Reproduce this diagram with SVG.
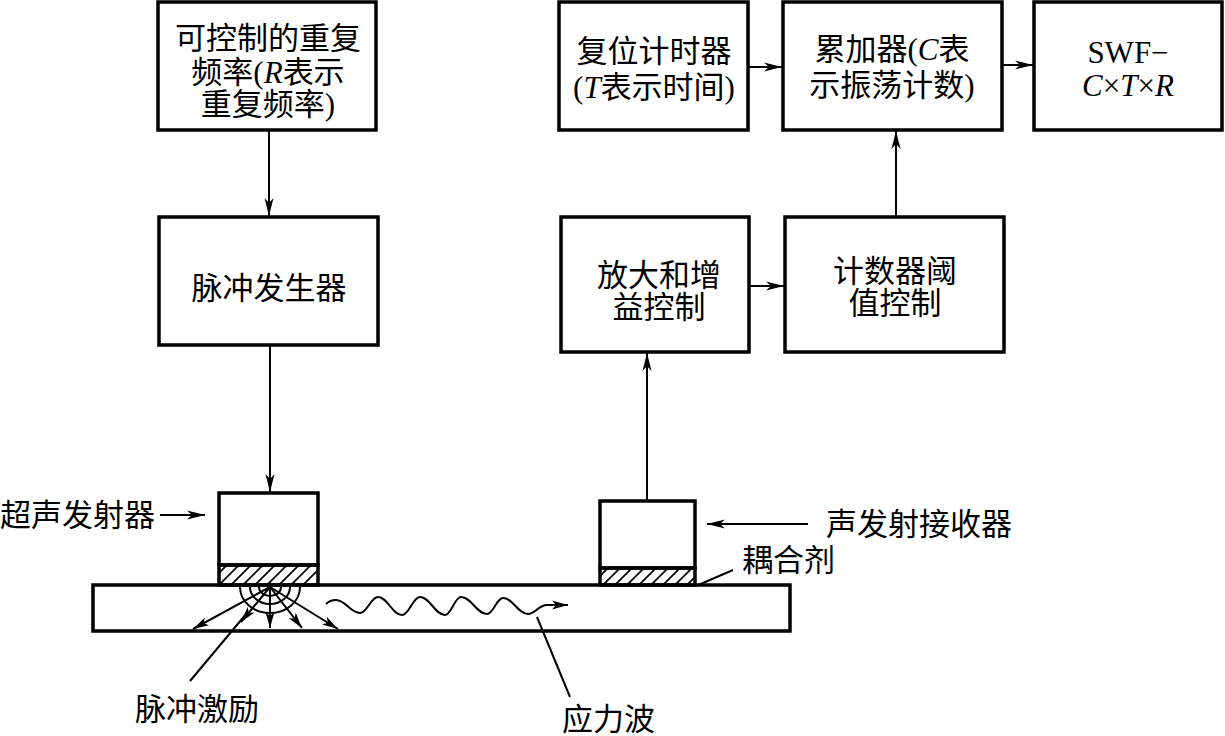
<svg xmlns="http://www.w3.org/2000/svg" width="1225" height="736" viewBox="0 0 1225 736">
<style>
.box{fill:#fff;stroke:#000;stroke-width:3.5}
.plate{fill:#fff;stroke:#000;stroke-width:3.5}
.ln{fill:none;stroke:#000;stroke-width:2}
.arr{fill:none;stroke:#000;stroke-width:2;marker-end:url(#ah)}
.t{font-family:"Liberation Serif","Noto Sans CJK SC",serif;font-size:31px;fill:#000;dominant-baseline:central}
.c{text-anchor:middle}
.i{font-style:italic}
</style>
<defs>
<marker id="ah" markerUnits="userSpaceOnUse" markerWidth="20" markerHeight="10" refX="18" refY="5" orient="auto">
<path d="M0,0.5 L18,5 L0,9.5 L5,5 z" fill="#000"/>
</marker>
<marker id="ahs" markerUnits="userSpaceOnUse" markerWidth="18" markerHeight="10" refX="16" refY="5" orient="auto">
<path d="M0,0.5 L16,5 L0,9.5 L4,5 z" fill="#000"/>
</marker>
<pattern id="hatch" patternUnits="userSpaceOnUse" width="12" height="12">
<path d="M-3,3 L3,-3 M0,12 L12,0 M9,15 L15,9" stroke="#000" stroke-width="1.8"/>
</pattern>
</defs>

<g id="connectors">
<line class="arr" x1="269" y1="130" x2="269" y2="216"/>
<line class="arr" x1="270" y1="345" x2="270" y2="492"/>
<line class="arr" x1="647" y1="500" x2="647" y2="353"/>
<line class="arr" x1="750" y1="286" x2="784" y2="286"/>
<line class="arr" x1="896" y1="217" x2="896" y2="131"/>
<line class="arr" x1="748" y1="67" x2="782" y2="67"/>
<line class="arr" x1="1002" y1="65" x2="1033" y2="65"/>
<line class="arr" x1="160" y1="515" x2="205" y2="515"/>
<line class="arr" x1="808" y1="524" x2="707" y2="524"/>
</g>

<g id="n-repfreq">
<rect class="box" x="158" y="2" width="218" height="128"/>
<text class="t c" x="268" y="38">可控制的重复</text>
<text class="t c" x="268" y="72">频率(<tspan class="i">R</tspan>表示</text>
<text class="t c" x="268" y="104">重复频率)</text>
</g>

<g id="n-pulsegen">
<rect class="box" x="159" y="217" width="219" height="128"/>
<text class="t c" x="269" y="288">脉冲发生器</text>
</g>

<g id="n-timer">
<rect class="box" x="559" y="2" width="189" height="128"/>
<text class="t c" x="654" y="51">复位计时器</text>
<text class="t c" x="654" y="87">(<tspan class="i">T</tspan>表示时间)</text>
</g>

<g id="n-accum">
<rect class="box" x="783" y="2" width="219" height="128"/>
<text class="t c" x="892" y="49">累加器(<tspan class="i">C</tspan>表</text>
<text class="t c" x="892" y="85">示振荡计数)</text>
</g>

<g id="n-swf">
<rect class="box" x="1034" y="2" width="188" height="128"/>
<text class="t c" x="1128" y="52">SWF−</text>
<text class="t c" x="1128" y="85"><tspan class="i">C</tspan>×<tspan class="i">T</tspan>×<tspan class="i">R</tspan></text>
</g>

<g id="n-amp">
<rect class="box" x="561" y="217" width="188" height="135"/>
<text class="t c" x="659" y="275">放大和增</text>
<text class="t c" x="659" y="307">益控制</text>
</g>

<g id="n-thresh">
<rect class="box" x="785" y="217" width="219" height="135"/>
<text class="t c" x="895" y="271">计数器阈</text>
<text class="t c" x="895" y="303">值控制</text>
</g>

<g id="plate">
<rect class="plate" x="93" y="585" width="697" height="46"/>
</g>

<g id="n-transmitter">
<rect class="box" x="219" y="493" width="99" height="72"/>
<rect x="219" y="565" width="99" height="20" fill="url(#hatch)" stroke="#000" stroke-width="3.5"/>
</g>

<g id="n-receiver">
<rect class="box" x="600" y="501" width="95" height="67"/>
<rect x="600" y="568" width="95" height="17" fill="url(#hatch)" stroke="#000" stroke-width="3.5"/>
</g>

<g id="excitation">
<path class="ln" d="M240,587 A30,26 0 0 0 300,587"/>
<path class="ln" d="M250,587 A20,17 0 0 0 290,587"/>
<path class="ln" d="M259,587 A11,9 0 0 0 281,587"/>
<line class="ln" x1="270" y1="587" x2="193" y2="629" style="marker-end:url(#ahs)"/>
<line class="ln" x1="270" y1="587" x2="241" y2="622" style="marker-end:url(#ahs)"/>
<line class="ln" x1="270" y1="587" x2="270" y2="628" style="marker-end:url(#ahs)"/>
<line class="ln" x1="270" y1="587" x2="302" y2="628" style="marker-end:url(#ahs)"/>
<line class="ln" x1="270" y1="587" x2="338" y2="629" style="marker-end:url(#ahs)"/>
<line class="ln" x1="190" y1="681" x2="247" y2="613"/>
</g>

<g id="wave">
<path class="ln" style="marker-end:url(#ahs)" d="M326,604 C329,601 332,600 336,600 C345.6,600 350.4,613 360,613 C367.2,613 370.8,597 378,597 C387.6,597 392.4,615 402,615 C409.2,615 412.8,597 420,597 C430,597 435,615 445,615 C451.4,615 454.6,597 461,597 C471.4,597 476.6,614 487,614 C493.4,614 496.6,598 503,598 C513,598 518,614 528,614 C535,614 538,606 546,605 L568,605"/>
<line class="ln" x1="537" y1="617" x2="570" y2="697"/>
</g>

<g id="labels">
<text class="t" x="0" y="515">超声发射器</text>
<text class="t" x="826" y="524">声发射接收器</text>
<text class="t" x="742" y="560">耦合剂</text>
<line class="ln" x1="696" y1="586" x2="733" y2="570"/>
<text class="t" x="135" y="709">脉冲激励</text>
<text class="t" x="562" y="719">应力波</text>
</g>
</svg>
